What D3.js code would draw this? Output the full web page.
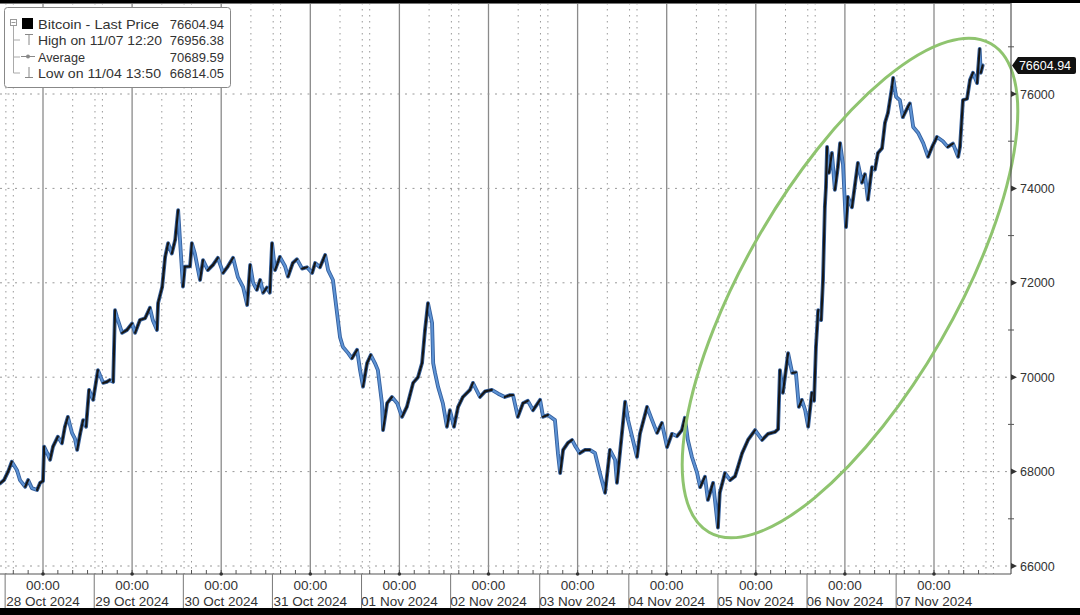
<!DOCTYPE html>
<html><head><meta charset="utf-8">
<script src="https://cdn.jsdelivr.net/npm/d3@7"></script>
<style>body{margin:0;background:#fff}svg{display:block}text{font-family:"Liberation Sans",Arial,sans-serif}</style>
</head><body><svg id="c" width="1080" height="615"></svg>
<script>
// ---- data (hours since 28 Oct 2024 00:00, price) ----
const hours = [-11.6,-10.5,-9.4,-8.4,-7.0,-6.2,-4.8,-4.0,-3.0,-1.6,-0.8,0,0.3,1.1,1.9,2.7,4.0,5.1,5.9,6.7,7.8,8.6,9.2,10.0,10.8,11.6,12.4,13.5,14.8,16.2,17.2,18.0,18.9,19.1,19.4,19.9,21.3,22.6,24.0,24.8,26.1,27.5,28.8,29.6,30.7,31.0,32.1,32.9,33.7,34.7,35.6,36.4,36.9,37.7,38.2,39.6,40.1,40.9,42.3,43.1,44.4,45.8,47.1,48.5,49.8,51.2,52.5,53.9,55.0,55.8,56.6,57.6,58.5,59.3,60.3,61.1,61.7,62.5,63.8,65.2,66.0,67.3,68.4,69.8,71.1,72.5,73.3,74.6,76.0,76.8,78.1,79.2,80.0,80.8,82.2,83.2,84.6,85.4,86.2,87.3,88.3,89.4,90.2,91.3,91.6,92.7,94.0,95.4,96.7,98.0,99.7,101.0,102.1,102.9,103.7,104.8,105.1,105.6,106.4,107.7,108.8,109.6,110.7,111.8,113.1,115.0,115.8,117.7,119.1,120.9,122.6,124.4,125.8,126.6,127.9,129.3,130.6,132.0,133.9,134.7,136.0,137.9,138.7,139.3,140.1,141.4,142.5,143.3,144.6,146.0,147.3,148.7,150.0,151.4,152.7,154.1,154.6,155.4,156.8,157.6,158.9,160.0,160.8,162.7,164.0,165.4,166.7,168.1,169.4,170.8,172.1,172.9,173.7,174.8,176.2,177.0,178.3,179.1,180.5,181.8,182.3,183.7,185.1,186.4,187.2,188.3,189.9,191.8,193.7,195.3,197.2,198.0,198.5,199.3,200.7,201.8,202.8,203.6,204.4,205.3,206.1,207.1,207.7,208.2,208.8,209.6,210.1,210.6,210.9,211.2,211.7,212.5,213.3,214.1,214.7,215.5,216.3,216.8,217.9,219.5,220.6,221.4,222.2,223.3,224.1,224.9,226.0,226.8,227.6,228.7,229.0,229.8,230.8,231.6,233.0,233.5,234.4,235.7,237.1,238.4,239.5,240.8,242.4,243.7,245.1,246.5,247.0,247.8,248.9,249.7,250.5,251.6,252.3,252.6,253.1];
const prices = [67750,67820,68000,68210,68030,67820,67680,67820,67650,67610,67760,67800,68530,68400,68250,68530,68740,68600,68950,69160,68820,68700,68460,68800,69090,68950,69730,69520,70150,69880,69900,69940,69900,70500,71420,71280,70940,71000,71140,70940,71210,71250,71470,71200,71000,71570,71910,72550,72840,72620,72910,73540,72910,71920,72340,72350,72840,72620,72060,72480,72270,72380,72530,72210,72350,72530,72120,71910,71530,72380,72000,71850,72060,71790,71900,71790,72840,72270,72550,72350,72130,72420,72500,72300,72330,72210,72420,72330,72590,72270,72060,71360,70850,70640,70510,70400,70580,70150,69800,70300,70470,70300,70150,69450,68880,69450,69580,69450,69160,69370,69880,70000,70300,71000,71570,71150,70300,70090,69800,69450,68950,69300,68950,69370,69580,69730,69880,69580,69700,69730,69650,69580,69620,69620,69160,69450,69500,69300,69520,69160,69200,69090,68390,67970,68460,68610,68670,68550,68390,68460,68460,68390,67970,67550,68460,68250,67760,68390,69480,69090,68670,68310,68800,69370,69100,68820,69030,68520,68800,68750,68880,69140,68670,68310,67970,67670,67890,67400,67760,66814.05,67550,67970,67820,67900,68100,68390,68670,68880,68670,68800,68840,68900,70150,69670,70510,70090,70100,69370,69520,69300,68950,69670,69500,70640,71420,71210,72060,73610,74030,74880,74330,74750,73970,74450,74960,74500,73180,73820,73600,74540,74120,74300,73760,74450,74400,74750,74850,75390,75600,76150,76340,75940,75870,75510,75730,75800,75300,75180,74960,74670,74880,75090,75000,74880,74950,74670,74880,75870,75900,76300,76450,76230,76956.38,76450,76604.94];
const yTicks = [66000,68000,70000,72000,74000,76000];
const dayStarts = ["2024-10-28","2024-10-29","2024-10-30","2024-10-31","2024-11-01","2024-11-02","2024-11-03","2024-11-04","2024-11-05","2024-11-06","2024-11-07"];
const legendRows = [
  {label:"Bitcoin - Last Price", value:"76604.94"},
  {label:"High on 11/07 12:20", value:"76956.38"},
  {label:"Average", value:"70689.59"},
  {label:"Low on 11/04 13:50", value:"66814.05"}
];
const lastPrice = "76604.94";

// ---- layout ----
const svg = d3.select("#c");
const base = Date.UTC(2024,9,28);
const H = 3600000;
const x = d3.scaleUtc().domain([new Date(base), new Date(Date.UTC(2024,10,7))]).range([43,934]);
const y = d3.scaleLinear().domain([66000,76000]).range([566,94]);
const plotL = 0, plotR = 1011, plotT = 3, plotB = 574;

svg.append("rect").attr("width",1080).attr("height",615).attr("fill","#fff");

const grid = svg.append("g");
for (let d=-1; d<=11; d++){
  const t0 = base + d*24*H;
  const sx = x(new Date(t0));
  if (sx>=plotL && sx<=plotR) grid.append("line").attr("x1",sx).attr("x2",sx).attr("y1",plotT).attr("y2",plotB).attr("stroke","#8a8a8a").attr("stroke-width",1.3);
  [8,14,16].forEach(hh=>{
    const px = x(new Date(t0+hh*H));
    if (px>=plotL && px<plotR) grid.append("line").attr("x1",px).attr("x2",px).attr("y1",plotT).attr("y2",plotB).attr("stroke","#999").attr("stroke-dasharray","1.5,4.5");
  });
}
yTicks.forEach(v=>{
  grid.append("line").attr("x1",plotL).attr("x2",plotR).attr("y1",y(v)).attr("y2",y(v)).attr("stroke","#999").attr("stroke-dasharray","2,5.5");
});

// price line: blue body with black up-moves
const pts = hours.map((h,i)=>[x(new Date(base+h*H)), y(prices[i])]);
const lg = svg.append("g").attr("stroke-linecap","round").attr("stroke-linejoin","round");
lg.append("path").attr("d", d3.line()(pts)).attr("fill","none").attr("stroke","#34609f").attr("stroke-width",3.8);
lg.append("path").attr("d", d3.line()(pts)).attr("fill","none").attr("stroke","#5e93d4").attr("stroke-width",2);
for (let i=1;i<pts.length;i++){
  if (prices[i] >= prices[i-1]) {
    lg.append("line").attr("x1",pts[i-1][0]).attr("y1",pts[i-1][1]).attr("x2",pts[i][0]).attr("y2",pts[i][1]).attr("stroke","#161616").attr("stroke-width",2.2);
  }
}

// green ellipse
svg.append("ellipse").attr("cx",850).attr("cy",288).attr("rx",282).attr("ry",105)
  .attr("transform","rotate(-60,850,288)").attr("fill","none").attr("stroke","#8fc46f").attr("stroke-width",3);

// axes lines
svg.append("line").attr("x1",plotR).attr("x2",plotR).attr("y1",plotT).attr("y2",plotB).attr("stroke","#555").attr("stroke-width",1.2);
svg.append("line").attr("x1",plotL).attr("x2",plotR).attr("y1",plotB).attr("y2",plotB).attr("stroke","#555").attr("stroke-width",1.2);
svg.append("line").attr("x1",plotL).attr("x2",plotR).attr("y1",plotT+0.5).attr("y2",plotT+0.5).attr("stroke","#777").attr("stroke-width",1);

// right axis
const ra = svg.append("g");
d3.range(66000,77001,1000).forEach(v=>{
  if (v%2000===0){
    ra.append("path").attr("d",`M${plotR},${y(v)-3}L${plotR+6},${y(v)}L${plotR},${y(v)+3}Z`).attr("fill","#333");
    ra.append("text").attr("x",plotR+9).attr("y",y(v)+4.5).attr("font-size",12.5).attr("fill","#333").text(v);
  } else {
    ra.append("line").attr("x1",plotR-3).attr("x2",plotR+3).attr("y1",y(v)).attr("y2",y(v)).attr("stroke","#555");
  }
});

// bottom axis
const ba = svg.append("g");
for (let hh=-12; hh<=10.5*24; hh+=4){
  const px = x(new Date(base+hh*H));
  if (px>plotL && px<plotR) ba.append("line").attr("x1",px).attr("x2",px).attr("y1",plotB-4).attr("y2",plotB).attr("stroke","#555");
}
const fmt = d3.utcFormat("%d %b %Y");
dayStarts.forEach(s=>{
  const d = new Date(s+"T00:00:00Z");
  const px = x(d);
  ba.append("circle").attr("cx",px).attr("cy",plotB).attr("r",1.8).attr("fill","#333");
  ba.append("text").attr("x",px).attr("y",590).attr("text-anchor","middle").attr("font-size",13.5).attr("fill","#333").text("00:00");
  ba.append("text").attr("x",px).attr("y",606).attr("text-anchor","middle").attr("font-size",13.5).attr("fill","#333").text(fmt(d));
  const sp = x(new Date(d.getTime()-10.2*H));
  ba.append("line").attr("x1",sp).attr("x2",sp).attr("y1",plotB).attr("y2",608).attr("stroke","#777");
});

// last price tag
const ly = y(+lastPrice);
svg.append("path").attr("d",`M${plotR+1},${ly}L${plotR+7},${ly-8.5}H1074Q1076,${ly-8.5} 1076,${ly-6.5}V${ly+6.5}Q1076,${ly+8.5} 1074,${ly+8.5}H${plotR+7}Z`).attr("fill","#111");
svg.append("text").attr("x",1045).attr("y",ly+4.5).attr("text-anchor","middle").attr("font-size",12.5).attr("fill","#fff").text(lastPrice);

// legend
const lgd = svg.append("g");
lgd.append("rect").attr("x",4.5).attr("y",7.5).attr("width",226).attr("height",80).attr("rx",3).attr("fill","#fff").attr("stroke","#888");
const rowY = [24,40,57,73];
const labelW = [121,124,47,123];
lgd.append("rect").attr("x",10.5).attr("y",19.5).attr("width",6).attr("height",6).attr("fill","none").attr("stroke","#999");
lgd.append("line").attr("x1",11.5).attr("x2",15.5).attr("y1",22.5).attr("y2",22.5).attr("stroke","#999");
lgd.append("line").attr("x1",13.5).attr("x2",13.5).attr("y1",26).attr("y2",rowY[3]).attr("stroke","#aaa");
[1,2,3].forEach(i=>lgd.append("line").attr("x1",13.5).attr("x2",20).attr("y1",rowY[i]).attr("y2",rowY[i]).attr("stroke","#aaa"));
lgd.append("rect").attr("x",22).attr("y",18).attr("width",11).attr("height",11).attr("fill","#000");
lgd.append("line").attr("x1",25).attr("x2",33).attr("y1",34.5).attr("y2",34.5).attr("stroke","#888");
lgd.append("line").attr("x1",29).attr("x2",29).attr("y1",34.5).attr("y2",45).attr("stroke","#888");
lgd.append("line").attr("x1",21).attr("x2",35).attr("y1",rowY[2]-0.5).attr("y2",rowY[2]-0.5).attr("stroke","#888");
lgd.append("circle").attr("cx",28).attr("cy",rowY[2]-0.5).attr("r",2).attr("fill","#888");
lgd.append("line").attr("x1",29).attr("x2",29).attr("y1",67).attr("y2",77.5).attr("stroke","#888");
lgd.append("line").attr("x1",25).attr("x2",33).attr("y1",77.5).attr("y2",77.5).attr("stroke","#888");
legendRows.forEach((r,i)=>{
  lgd.append("text").attr("x",38).attr("y",rowY[i]+5).attr("font-size",13.5).attr("fill","#333")
    .attr("textLength",labelW[i]).attr("lengthAdjust","spacingAndGlyphs").text(r.label);
  lgd.append("text").attr("x",224).attr("y",rowY[i]+5).attr("text-anchor","end").attr("font-size",13).attr("fill","#333").text(r.value);
});

// black bands (screenshot border)
svg.append("rect").attr("x",0).attr("y",0).attr("width",1080).attr("height",3).attr("fill","#000");
svg.append("rect").attr("x",0).attr("y",608).attr("width",1080).attr("height",7).attr("fill","#000");
</script></body></html>
